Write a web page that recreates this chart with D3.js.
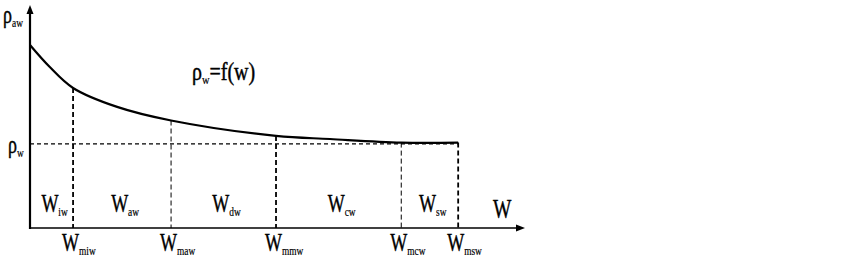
<!doctype html>
<html>

<head>
    <meta charset="UTF-8">
    <title>Moisture density curve</title>
    <script src="https://d3js.org/d3.v7.min.js"></script>
    <style>
        body { margin: 0; background: #fff; }
        text { stroke: #000; stroke-width: 0.45; fill: #000; }
    </style>
</head>

<body>
    <script>
        var width = 849;
        var height = 268;
        var serif = "'Liberation Serif', 'Times New Roman', Times, 'DejaVu Serif', serif";

        // curve rho_w = f(w) (w in % of axis, rho in % of axis)
        var curveW = [0, 4, 8.7, 17.6, 28.5, 49.7, 60.6, 75, 86.5];
        var curveRho = [82.1, 72.2, 62.8, 54.3, 48.2, 41.3, 39.9, 38.3, 38.3];

        // boundary moistures
        var boundW = [8.7, 28.5, 49.7, 75, 86.5];
        var boundMain = ["W", "W", "W", "W", "W"];
        var boundSub = ["miw", "maw", "mmw", "mcw", "msw"];

        // zones between boundaries
        var zoneSub = ["iw", "aw", "dw", "cw", "sw"];

        var rhoW = 37.7;

        var x = d3.scaleLinear().domain([0, 100]).range([30, 525]);
        var y = d3.scaleLinear().domain([0, 100]).range([228, 5]);

        var svg = d3.select("body").append("svg")
            .attr("width", width)
            .attr("height", height);

        var points = curveW.map(function (d, i) { return [d, curveRho[i]]; });
        function rhoAt(w) {
            for (var i = 1; i < points.length; i++) {
                if (w <= points[i][0]) {
                    var a = points[i - 1], b = points[i];
                    return a[1] + (b[1] - a[1]) * (w - a[0]) / (b[0] - a[0]);
                }
            }
            return points[points.length - 1][1];
        }

        // dashed helper lines
        svg.append("line")
            .attr("x1", x(0)).attr("x2", x(boundW[4]))
            .attr("y1", y(rhoW)).attr("y2", y(rhoW))
            .attr("stroke", "#000").attr("stroke-width", 1.2)
            .attr("stroke-dasharray", "4,3");

        svg.selectAll(".vline").data(boundW).enter().append("line")
            .attr("class", "vline")
            .attr("x1", function (d) { return x(d); })
            .attr("x2", function (d) { return x(d); })
            .attr("y1", function (d) { return y(rhoAt(d)); })
            .attr("y2", y(0))
            .attr("stroke", "#000")
            .attr("stroke-width", function (d, i) { return i == 1 || i == 3 ? 1 : 1.8; })
            .attr("stroke-dasharray", "5,3");

        // curve
        var line = d3.line()
            .x(function (d) { return x(d[0]); })
            .y(function (d) { return y(d[1]); })
            .curve(d3.curveCatmullRom.alpha(0.5));

        svg.append("path")
            .datum(points)
            .attr("d", line)
            .attr("fill", "none")
            .attr("stroke", "#000")
            .attr("stroke-width", 2.2);

        // axes
        svg.append("line")
            .attr("x1", x(0)).attr("x2", x(100) - 5)
            .attr("y1", y(0)).attr("y2", y(0))
            .attr("stroke", "#000").attr("stroke-width", 1.5);
        svg.append("path")
            .attr("d", "M" + x(100) + "," + y(0) + "l-9,-3.5v7z")
            .attr("fill", "#000");

        svg.append("line")
            .attr("x1", x(0)).attr("x2", x(0))
            .attr("y1", y(0) + 1).attr("y2", y(100) + 6)
            .attr("stroke", "#000").attr("stroke-width", 2.2);
        svg.append("path")
            .attr("d", "M" + x(0) + "," + y(100) + "l-3.5,9h7z")
            .attr("fill", "#000");

        // label with subscript, horizontally condensed
        function label(px, py, main, sub, anchor, size) {
            size = size || 25;
            var g = svg.append("g")
                .attr("transform", "translate(" + px + "," + py + ") scale(0.72,1)");
            var t = g.append("text")
                .attr("font-family", serif)
                .attr("text-anchor", anchor || "start");
            t.append("tspan").attr("font-size", size).text(main);
            if (sub) {
                t.append("tspan").attr("font-size", 13).attr("dy", 4)
                    .style("stroke-width", 0.2).text(sub);
            }
            return t;
        }

        // zone labels
        var edges = [0].concat(boundW);
        zoneSub.forEach(function (s, i) {
            var cx = (x(edges[i]) + x(edges[i + 1])) / 2 + 3;
            label(cx, 212, "W", s, "middle");
        });

        // boundary labels
        boundW.forEach(function (d, i) {
            label(x(d) - 11, 251, boundMain[i], boundSub[i], "start");
        });

        // axis titles
        label(493, 218, "W", null, "start", 27);
        label(3, 23, "\u03c1", "aw", "start");
        label(8, 153, "\u03c1", "w", "start");

        // formula
        var f = svg.append("g").attr("transform", "translate(192,80) scale(0.8,1)");
        var ft = f.append("text").attr("font-family", serif).attr("font-size", 25);
        ft.append("tspan").text("\u03c1");
        ft.append("tspan").attr("font-size", 13).attr("dy", 4).style("stroke-width", 0.2).text("w");
        ft.append("tspan").attr("dy", -4).text("=f(w)");
    </script>
</body>

</html>
